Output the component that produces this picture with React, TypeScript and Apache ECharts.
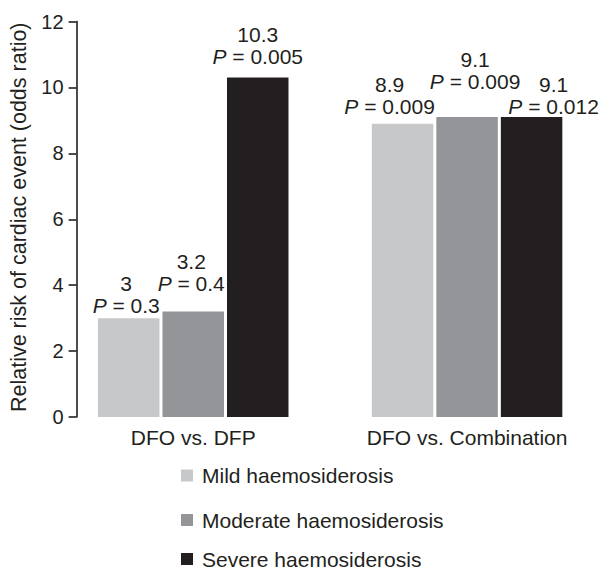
import React, { useEffect, useRef } from "react";
import * as echarts from "echarts";

// ---- data ----
const CATEGORIES = ["DFO vs. DFP", "DFO vs. Combination"];
const SERIES_NAMES = ["Mild haemosiderosis", "Moderate haemosiderosis", "Severe haemosiderosis"];
const MILD = [3, 8.9];
const MODERATE = [3.2, 9.1];
const SEVERE = [10.3, 9.1];
const MILD_P = ["0.3", "0.009"];
const MODERATE_P = ["0.4", "0.009"];
const SEVERE_P = ["0.005", "0.012"];
const Y_AXIS_TITLE = "Relative risk of cardiac event (odds ratio)";

// ---- style ----
const COLORS = ["#c7c8ca", "#939598", "#231f20"];
const TEXT = "#231f20";
const FONT = "'Liberation Sans', Arial, Helvetica, sans-serif";
// label nudges [dx, dy] per series / per category (manual placement in the original)
const LABEL_OFFSETS = [
  [[-2.5, -2], [-13, -6]],
  [[-2, -17], [8, -25]],
  [[0, -10], [22, 0]],
];
const LEGEND_CENTERS_Y = [475.5, 520, 559];

export default function App() {
  const ref = useRef<HTMLDivElement>(null);

  useEffect(() => {
    if (!ref.current) return;
    const chart = echarts.init(ref.current, undefined, { renderer: "svg" });

    const values = [MILD, MODERATE, SEVERE];
    const pvals = [MILD_P, MODERATE_P, SEVERE_P];

    const series = values.map((vals, si) => ({
      name: SERIES_NAMES[si],
      type: "bar",
      barWidth: 61.5,
      barGap: "4.9%",
      itemStyle: { color: COLORS[si] },
      data: vals.map((v, ci) => ({
        value: v,
        label: { offset: LABEL_OFFSETS[si][ci] },
      })),
      label: {
        show: true,
        position: "top",
        distance: 0,
        formatter: (p: any) =>
          `{v|${String(values[si][p.dataIndex])}}\n{p|P}{t| = ${pvals[si][p.dataIndex]}}`,
        rich: {
          v: { fontSize: 21, lineHeight: 22, color: TEXT, fontFamily: FONT, align: "center" },
          p: { fontSize: 21, lineHeight: 22, color: TEXT, fontFamily: FONT, fontStyle: "italic" },
          t: { fontSize: 21, lineHeight: 22, color: TEXT, fontFamily: FONT },
        },
      },
    }));

    const legends = SERIES_NAMES.map((name, i) => ({
      orient: "vertical",
      left: 181,
      top: LEGEND_CENTERS_Y[i] - 11,
      padding: 0,
      itemWidth: 12,
      itemHeight: 12,
      icon: "rect",
      data: [name],
      textStyle: {
        fontSize: 21,
        lineHeight: 22,
        color: TEXT,
        fontFamily: FONT,
        padding: [0, 0, 0, 4],
      },
    }));

    chart.setOption({
      animation: false,
      backgroundColor: "#ffffff",
      textStyle: { fontFamily: FONT, color: TEXT },
      grid: { left: 56.3, top: 21.5, width: 548.8, bottom: 152, containLabel: false },
      legend: legends,
      xAxis: {
        type: "category",
        data: CATEGORIES,
        axisLine: { show: false },
        axisTick: { show: false },
        axisLabel: { fontSize: 21, color: TEXT, fontFamily: FONT, margin: 10 },
      },
      yAxis: {
        type: "value",
        min: 0,
        max: 12,
        interval: 2,
        offset: -20.3,
        name: Y_AXIS_TITLE,
        nameLocation: "middle",
        nameGap: 45,
        nameTextStyle: { fontSize: 21.5, color: TEXT, fontFamily: FONT, padding: [0, 0, 0, 4] },
        axisLine: { show: true, lineStyle: { color: TEXT, width: 1.6 } },
        axisTick: { show: true, length: 8, lineStyle: { color: TEXT, width: 1.6 } },
        axisLabel: { fontSize: 20, color: TEXT, fontFamily: FONT, margin: 13 },
        splitLine: { show: false },
      },
      series,
    });

    return () => chart.dispose();
  }, []);

  return (
    <div
      ref={ref}
      style={{ position: "fixed", left: 0, top: 0, width: 604, height: 569 }}
    />
  );
}
